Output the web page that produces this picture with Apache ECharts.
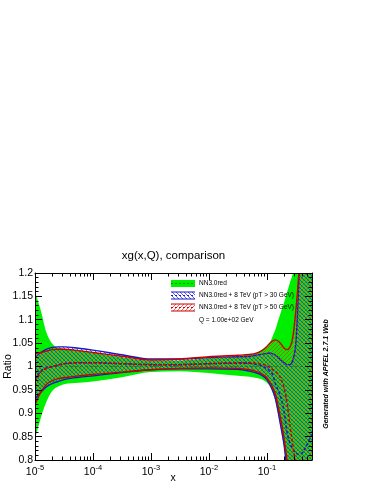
<!DOCTYPE html>
<html>
<head>
<meta charset="utf-8">
<script src="https://cdn.jsdelivr.net/npm/echarts@6/dist/echarts.min.js"></script>
<style>
  html, body { margin: 0; padding: 0; background: #fff; }
  #main { width: 374px; height: 484px; }
</style>
</head>
<body>
<div id="main"></div>
<script>
// x grid (log spaced) and ratio curves
const xs = [1e-5, 1.26e-5, 1.58e-5, 2e-5, 2.51e-5, 3.16e-5, 5.62e-5, 1e-4, 3.16e-4, 1e-3,
  3.16e-3, 0.01, 0.0316, 0.0501, 0.0631, 0.0794, 0.1, 0.112, 0.126, 0.141,
  0.158, 0.178, 0.2, 0.224, 0.251, 0.282, 0.316, 0.355, 0.398, 0.447,
  0.501, 0.562, 0.6]

// NN3.0red (reference, central = 1)
const nnMid = [1, 1, 1, 1, 1, 1, 1, 1, 1, 1, 1, 1, 1, 1, 1, 1, 1, 1, 1, 1, 1, 1, 1, 1, 1, 1, 1, 1, 1, 1, 1, 1, 1]
const nnHi = [1.16, 1.12, 1.072, 1.048, 1.04, 1.038, 1.035, 1.03, 1.02, 1.013,
  1.013, 1.018, 1.022, 1.025, 1.028, 1.035, 1.044, 1.05, 1.065, 1.08,
  1.10, 1.12, 1.139, 1.16, 1.18, 1.2, 1.23, 1.27, 1.32, 1.38,
  1.45, 1.55, 1.6]
const nnLo = [0.845, 0.89, 0.925, 0.948, 0.957, 0.962, 0.965, 0.968, 0.977, 0.988,
  0.99, 0.986, 0.98, 0.978, 0.976, 0.973, 0.965, 0.958, 0.945, 0.925,
  0.895, 0.86, 0.823, 0.77, 0.70, 0.62, 0.55, 0.5, 0.45, 0.4,
  0.35, 0.3, 0.3]

// NN3.0red + 8 TeV (pT > 30 GeV)
const p30Mid = [0.972, 0.99, 0.997, 1.0, 1.003, 1.006, 1.008, 1.008, 1.006, 1.004,
  1.004, 1.006, 1.007, 1.007, 1.005, 1.002, 0.995, 0.99, 0.982, 0.962,
  0.948, 0.93, 0.9, 0.858, 0.835, 0.823, 0.815, 0.812, 0.814, 0.823,
  0.835, 0.848, 0.855]
const p30Hi = [1.02, 1.03, 1.037, 1.041, 1.042, 1.042, 1.039, 1.035, 1.025, 1.016,
  1.016, 1.019, 1.021, 1.022, 1.024, 1.026, 1.028, 1.029, 1.027, 1.024,
  1.019, 1.013, 1.008, 1.004, 1.004, 1.015, 1.05, 1.18, 1.35, 1.5,
  1.6, 1.7, 1.7]
const p30Lo = [0.93, 0.945, 0.957, 0.964, 0.968, 0.972, 0.977, 0.98, 0.987, 0.993,
  0.995, 0.995, 0.994, 0.99, 0.987, 0.982, 0.972, 0.962, 0.948, 0.93,
  0.9, 0.865, 0.828, 0.77, 0.7, 0.62, 0.55, 0.5, 0.45, 0.4,
  0.35, 0.3, 0.3]

// NN3.0red + 8 TeV (pT > 50 GeV)
const p50Mid = [0.968, 0.988, 0.996, 1.0, 1.003, 1.006, 1.008, 1.008, 1.006, 1.004,
  1.004, 1.006, 1.008, 1.008, 1.007, 1.005, 1.002, 0.998, 0.993, 0.989,
  0.983, 0.972, 0.952, 0.92, 0.872, 0.83, 0.785, 0.73, 0.69, 0.66,
  0.64, 0.62, 0.6]
const p50Hi = [1.028, 1.03, 1.033, 1.036, 1.037, 1.037, 1.034, 1.03, 1.022, 1.014,
  1.016, 1.021, 1.024, 1.026, 1.028, 1.033, 1.043, 1.05, 1.055, 1.057,
  1.054, 1.047, 1.039, 1.036, 1.042, 1.065, 1.12, 1.2, 1.35, 1.5,
  1.6, 1.7, 1.7]
const p50Lo = [0.918, 0.945, 0.962, 0.97, 0.974, 0.976, 0.98, 0.983, 0.988, 0.993,
  0.996, 0.997, 0.996, 0.993, 0.99, 0.985, 0.976, 0.967, 0.955, 0.94,
  0.912, 0.88, 0.842, 0.795, 0.73, 0.65, 0.57, 0.5, 0.45, 0.4,
  0.35, 0.3, 0.3]

const legendNames = ['NN3.0red', 'NN3.0red + 8 TeV (pT > 30 GeV)', 'NN3.0red + 8 TeV (pT > 50 GeV)']
const scaleNote = 'Q = 1.00e+02 GeV'

const xMin = 1e-5
const xMax = 0.6
const FONT = '"Liberation Sans", Arial, Helvetica, sans-serif'
const GREEN = '#00ee00'
const BLUE = '#1818c8'
const RED = '#c80000'

// diagonal hatch like ROOT fill styles 3004 / 3005
function hatch (color, flip) {
  const s = 4
  const c = document.createElement('canvas')
  c.width = s
  c.height = s
  const g = c.getContext('2d')
  g.strokeStyle = color
  g.lineWidth = 1
  g.beginPath()
  if (flip) {
    g.moveTo(0, 0); g.lineTo(s, s)
    g.moveTo(-1, s - 1); g.lineTo(1, s + 1)
    g.moveTo(s - 1, -1); g.lineTo(s + 1, 1)
  } else {
    g.moveTo(0, s); g.lineTo(s, 0)
    g.moveTo(-1, 1); g.lineTo(1, -1)
    g.moveTo(s - 1, s + 1); g.lineTo(s + 1, s - 1)
  }
  g.stroke()
  return c
}
const blueHatch = { image: hatch('rgba(40,40,255,0.75)', true), repeat: 'repeat' }
const redHatch = { image: hatch('rgba(255,40,40,0.75)', false), repeat: 'repeat' }

// monotone-in-x cubic path through pixel points (no overshoot)
function mono (P, first) {
  const n = P.length
  const t = new Array(n)
  const sgn = v => (v < 0 ? -1 : 1)
  for (let i = 1; i < n - 1; i++) {
    const h0 = P[i][0] - P[i - 1][0]
    const h1 = P[i + 1][0] - P[i][0]
    const s0 = (P[i][1] - P[i - 1][1]) / h0
    const s1 = (P[i + 1][1] - P[i][1]) / h1
    const p = (s0 * h1 + s1 * h0) / (h0 + h1)
    t[i] = (sgn(s0) + sgn(s1)) * Math.min(Math.abs(s0), Math.abs(s1), 0.5 * Math.abs(p)) || 0
  }
  const slope2 = (a, b, tt) => {
    const h = b[0] - a[0]
    return h ? (3 * (b[1] - a[1]) / h - tt) / 2 : tt
  }
  t[0] = slope2(P[0], P[1], t[1])
  t[n - 1] = slope2(P[n - 2], P[n - 1], t[n - 2])
  let d = first + P[0][0].toFixed(2) + ' ' + P[0][1].toFixed(2)
  for (let i = 0; i < n - 1; i++) {
    const [x0, y0] = P[i]
    const [x1, y1] = P[i + 1]
    const dx = (x1 - x0) / 3
    d += ' C' + (x0 + dx).toFixed(2) + ' ' + (y0 + dx * t[i]).toFixed(2) + ' ' +
      (x1 - dx).toFixed(2) + ' ' + (y1 - dx * t[i + 1]).toFixed(2) + ' ' +
      x1.toFixed(2) + ' ' + y1.toFixed(2)
  }
  return d
}

function toPixels (api, arr) {
  return xs.map((x, i) => api.coord([x, arr[i]]))
}

// filled uncertainty band with optional solid edges
function band (name, lo, hi, fill, edge, z) {
  return {
    name: name, type: 'custom', coordinateSystem: 'cartesian2d', clip: true, silent: true, z: z,
    data: [[xs[0], lo[0]]],
    renderItem: (params, api) => {
      const L = toPixels(api, lo)
      const H = toPixels(api, hi)
      const children = [{
        type: 'path',
        shape: { pathData: mono(L, 'M') + ' ' + mono(H.slice().reverse(), 'L') + ' Z' },
        style: { fill: fill, stroke: null }
      }]
      if (edge) {
        children.push({ type: 'path', shape: { pathData: mono(L, 'M') }, style: { fill: null, stroke: edge, lineWidth: 1.4 } })
        children.push({ type: 'path', shape: { pathData: mono(H, 'M') }, style: { fill: null, stroke: edge, lineWidth: 1.4 } })
      }
      return { type: 'group', children: children }
    }
  }
}

// dashed central value
function central (name, arr, color, width, z) {
  return {
    name: name, type: 'custom', coordinateSystem: 'cartesian2d', clip: true, silent: true, z: z,
    data: [[xs[0], arr[0]]],
    renderItem: (params, api) => ({
      type: 'path',
      shape: { pathData: mono(toPixels(api, arr), 'M') },
      style: { fill: null, stroke: color, lineWidth: width, lineDash: [3, 2] }
    })
  }
}

// ROOT style log minor ticks (2..9 in every decade), in log10 units
const minorLog = []
for (let e = -5; e <= -1; e++) {
  for (let k = 2; k <= 9; k++) {
    const v = Math.log10(k * Math.pow(10, e))
    if (v < Math.log10(xMax)) minorLog.push(v)
  }
}

const logLabel = v => {
  const l = Math.log10(v)
  const e = Math.round(l)
  if (Math.abs(l - e) > 1e-6) return ''
  return '{b|10}{s|' + e + '}'
}

const tickStyle = { color: '#000', width: 1 }
const LZ = 100 // legend above the bands

const chart = echarts.init(document.getElementById('main'))
chart.setOption({
  animation: false,
  title: {
    text: 'xg(x,Q), comparison',
    left: 173.5,
    top: 250,
    padding: 0,
    textAlign: 'center',
    textStyle: { fontFamily: FONT, fontSize: 11.5, fontWeight: 'normal', color: '#000' }
  },
  grid: { left: 35, right: 62, top: 273, bottom: 24, outerBoundsMode: 'none' },
  xAxis: [
    {
      type: 'log', logBase: 10, min: xMin, max: xMax, position: 'bottom', z: 10,
      axisLine: { show: true, lineStyle: tickStyle },
      axisTick: { show: true, inside: true, length: 7, lineStyle: tickStyle },
      splitLine: { show: false },
      axisLabel: {
        formatter: logLabel, margin: 4, color: '#000', fontFamily: FONT,
        showMaxLabel: false,
        rich: {
          b: { fontSize: 10.5, fontFamily: FONT, color: '#000' },
          s: { fontSize: 7.5, fontFamily: FONT, color: '#000', padding: [0, 0, 8, 0] }
        }
      }
    },
    {
      type: 'value', min: -5, max: Math.log10(xMax), position: 'bottom', z: 10,
      axisLine: { show: false },
      axisTick: { show: true, inside: true, length: 3.5, lineStyle: tickStyle, customValues: minorLog },
      axisLabel: { show: false },
      splitLine: { show: false }
    },
    {
      type: 'log', logBase: 10, min: xMin, max: xMax, position: 'top', z: 10,
      axisLine: { show: true, lineStyle: tickStyle },
      axisTick: { show: true, inside: true, length: 7, lineStyle: tickStyle },
      axisLabel: { show: false },
      splitLine: { show: false }
    },
    {
      type: 'value', min: -5, max: Math.log10(xMax), position: 'top', z: 10,
      axisLine: { show: false },
      axisTick: { show: true, inside: true, length: 3.5, lineStyle: tickStyle, customValues: minorLog },
      axisLabel: { show: false },
      splitLine: { show: false }
    }
  ],
  yAxis: [
    {
      type: 'value', min: 0.8, max: 1.2, interval: 0.05, position: 'left', z: 10,
      axisLine: { show: true, lineStyle: tickStyle },
      axisTick: { show: true, inside: true, length: 7, lineStyle: tickStyle },
      minorTick: { show: true, splitNumber: 5, length: 3.5, lineStyle: tickStyle },
      splitLine: { show: false },
      axisLabel: { margin: 2, color: '#000', fontFamily: FONT, fontSize: 10.5 }
    },
    {
      type: 'value', min: 0.8, max: 1.2, interval: 0.05, position: 'right', z: 10,
      axisLine: { show: true, lineStyle: tickStyle },
      axisTick: { show: true, inside: true, length: 7, lineStyle: tickStyle },
      minorTick: { show: true, splitNumber: 5, length: 3.5, lineStyle: tickStyle },
      splitLine: { show: false },
      axisLabel: { show: false }
    }
  ],
  series: [
    band('nn', nnLo, nnHi, GREEN, null, 1),
    central('nn-mid', nnMid, '#009900', 1, 2),
    band('p30', p30Lo, p30Hi, blueHatch, BLUE, 3),
    band('p50', p50Lo, p50Hi, redHatch, RED, 4),
    central('p30-mid', p30Mid, BLUE, 1.5, 5),
    central('p50-mid', p50Mid, RED, 1.5, 6)
  ],
  graphic: [
    // axis titles
    { type: 'text', x: 8, y: 366.5, rotation: Math.PI / 2,
      style: { text: 'Ratio', font: '10.5px ' + FONT, fill: '#000', align: 'center', verticalAlign: 'middle' } },
    { type: 'text', x: 173, y: 478,
      style: { text: 'x', font: '10.5px ' + FONT, fill: '#000', align: 'center', verticalAlign: 'middle' } },
    // side note
    { type: 'text', x: 326.5, y: 374, rotation: Math.PI / 2,
      style: { text: 'Generated with APFEL 2.7.1 Web', font: 'italic bold 7px ' + FONT, fill: '#000', align: 'center', verticalAlign: 'middle' } },
    // legend
    { type: 'rect', z: LZ, shape: { x: 171, y: 280, width: 24, height: 7 }, style: { fill: GREEN } },
    { type: 'line', z: LZ, shape: { x1: 171, y1: 283.5, x2: 195, y2: 283.5 }, style: { stroke: '#009900', lineWidth: 1, lineDash: [2, 2] } },
    { type: 'text', z: LZ, x: 199, y: 283.5, style: { text: legendNames[0], font: '6.5px ' + FONT, fill: '#000', verticalAlign: 'middle' } },

    { type: 'rect', z: LZ, shape: { x: 171, y: 292, width: 24, height: 7 }, style: { fill: blueHatch } },
    { type: 'line', z: LZ, shape: { x1: 171, y1: 292, x2: 195, y2: 292 }, style: { stroke: BLUE, lineWidth: 1 } },
    { type: 'line', z: LZ, shape: { x1: 171, y1: 299, x2: 195, y2: 299 }, style: { stroke: BLUE, lineWidth: 1 } },
    { type: 'line', z: LZ, shape: { x1: 171, y1: 295.5, x2: 195, y2: 295.5 }, style: { stroke: BLUE, lineWidth: 1, lineDash: [2, 2] } },
    { type: 'text', z: LZ, x: 199, y: 295.5, style: { text: legendNames[1], font: '6.5px ' + FONT, fill: '#000', verticalAlign: 'middle' } },

    { type: 'rect', z: LZ, shape: { x: 171, y: 304, width: 24, height: 7 }, style: { fill: redHatch } },
    { type: 'line', z: LZ, shape: { x1: 171, y1: 304, x2: 195, y2: 304 }, style: { stroke: RED, lineWidth: 1 } },
    { type: 'line', z: LZ, shape: { x1: 171, y1: 311, x2: 195, y2: 311 }, style: { stroke: RED, lineWidth: 1 } },
    { type: 'line', z: LZ, shape: { x1: 171, y1: 307.5, x2: 195, y2: 307.5 }, style: { stroke: RED, lineWidth: 1, lineDash: [2, 2] } },
    { type: 'text', z: LZ, x: 199, y: 307.5, style: { text: legendNames[2], font: '6.5px ' + FONT, fill: '#000', verticalAlign: 'middle' } },

    { type: 'text', z: LZ, x: 199, y: 320, style: { text: scaleNote, font: '6.5px ' + FONT, fill: '#000', verticalAlign: 'middle' } }
  ]
})
</script>
</body>
</html>
